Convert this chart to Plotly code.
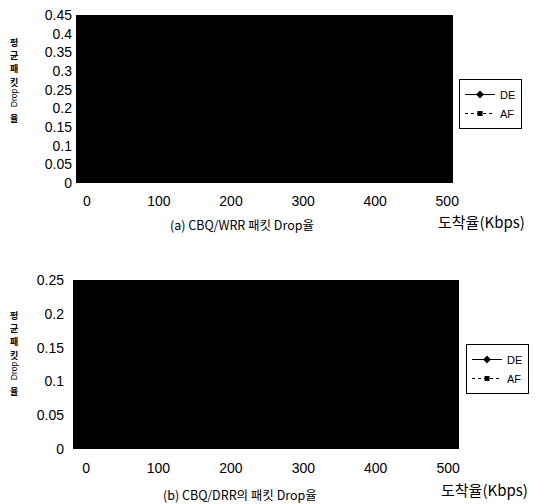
import plotly.graph_objects as go

# ---- data (estimated; plot area in reference is fully dark) ----
rates = [100, 200, 300, 400, 500]
de_wrr = [0.0, 0.08, 0.2, 0.3, 0.38]
af_wrr = [0.0, 0.0, 0.02, 0.06, 0.12]
de_drr = [0.0, 0.04, 0.1, 0.16, 0.21]
af_drr = [0.0, 0.0, 0.01, 0.04, 0.08]

x_ticks = [0, 100, 200, 300, 400, 500]
y_ticks_a = [0, 0.05, 0.1, 0.15, 0.2, 0.25, 0.3, 0.35, 0.4, 0.45]
y_ticks_b = [0, 0.05, 0.1, 0.15, 0.2, 0.25]

OFF = 8  # default page body margin
W, H = 537 - OFF, 504 - OFF
LAT = "Liberation Sans, Arial, sans-serif"
KR = "Noto Sans CJK KR, sans-serif"

def px(x):
    return (x - OFF) / W

def py(y):
    return 1 - (y - OFF) / H

fig = go.Figure()

def add_pair(de, af, xa, ya, leg):
    fig.add_trace(go.Scatter(x=rates, y=de, name="DE", mode="lines+markers",
                             line=dict(color="black", width=1),
                             marker=dict(symbol="diamond", size=6, color="black"),
                             xaxis=xa, yaxis=ya, legend=leg))
    fig.add_trace(go.Scatter(x=rates, y=af, name="AF", mode="lines+markers",
                             line=dict(color="black", width=1, dash="dot"),
                             marker=dict(symbol="square", size=5, color="black"),
                             xaxis=xa, yaxis=ya, legend=leg))

add_pair(de_wrr, af_wrr, "x", "y", "legend")
add_pair(de_drr, af_drr, "x2", "y2", "legend2")

tickfont = dict(family=LAT, size=14, color="black")

axis_common = dict(showgrid=False, zeroline=False, showline=False, ticks="",
                   tickfont=tickfont, automargin=False, ticklabeloverflow="allow")

fig.update_layout(
    template="none",
    width=W, height=H, margin=dict(l=0, r=0, t=0, b=0, pad=0),
    paper_bgcolor="white", plot_bgcolor="black",
    showlegend=True,
    xaxis=dict(domain=[px(76), px(453)], range=[-15, 508], tickvals=x_ticks,
               ticklabelstandoff=8, anchor="y", **axis_common),
    yaxis=dict(domain=[py(183), py(15)], range=[0, 0.4501], tickvals=y_ticks_a,
               ticktext=[f"{v:g}" for v in y_ticks_a], ticklabelstandoff=3,
               anchor="x", **axis_common),
    xaxis2=dict(domain=[px(73), px(459)], range=[-18, 515], tickvals=x_ticks,
                ticklabelstandoff=9, anchor="y2", **axis_common),
    yaxis2=dict(domain=[py(449), py(280)], range=[0, 0.2501], tickvals=y_ticks_b,
                ticktext=[f"{v:g}" for v in y_ticks_b], ticklabelstandoff=8,
                anchor="x2", **axis_common),
    legend=dict(x=px(459), y=py(79), xanchor="left", yanchor="top",
                bordercolor="black", borderwidth=1, bgcolor="white",
                font=dict(family=LAT, size=11, color="black"),
                tracegroupgap=0, itemwidth=30),
    legend2=dict(x=px(466), y=py(344), xanchor="left", yanchor="top",
                 bordercolor="black", borderwidth=1, bgcolor="white",
                 font=dict(family=LAT, size=11, color="black"),
                 tracegroupgap=0, itemwidth=30),
)

ann = []
def a(x, y, text, font, angle=0):
    ann.append(dict(x=px(x), y=py(y), text=text, xref="paper", yref="paper",
                    xanchor="center", yanchor="middle", showarrow=False,
                    textangle=angle, font=font, borderpad=0))

def ytitle(top_y, step=13.4):
    for i, c in enumerate(["평", "균", "패", "킷"]):
        a(14, top_y + i * step, f"<b>{c}</b>", dict(family=KR, size=9, color="black"))
    a(14, top_y + 3 * step + 16, "Drop", dict(family=LAT, size=8.5, color="black"), -90)
    a(14, top_y + 3 * step + 36, "<b>율</b>", dict(family=KR, size=9, color="black"))

ytitle(42)
ytitle(315)

a(242, 224, "(a) CBQ/WRR 패킷 Drop율", dict(family=KR, size=12.5, color="black"))
a(240, 494, "(b) CBQ/DRR의 패킷 Drop율", dict(family=KR, size=12.5, color="black"))
a(481, 221, "도착율(Kbps)", dict(family=KR, size=15, color="black"))
a(484, 489, "도착율(Kbps)", dict(family=KR, size=15, color="black"))

fig.update_layout(annotations=ann)
fig.write_html("out.html")
